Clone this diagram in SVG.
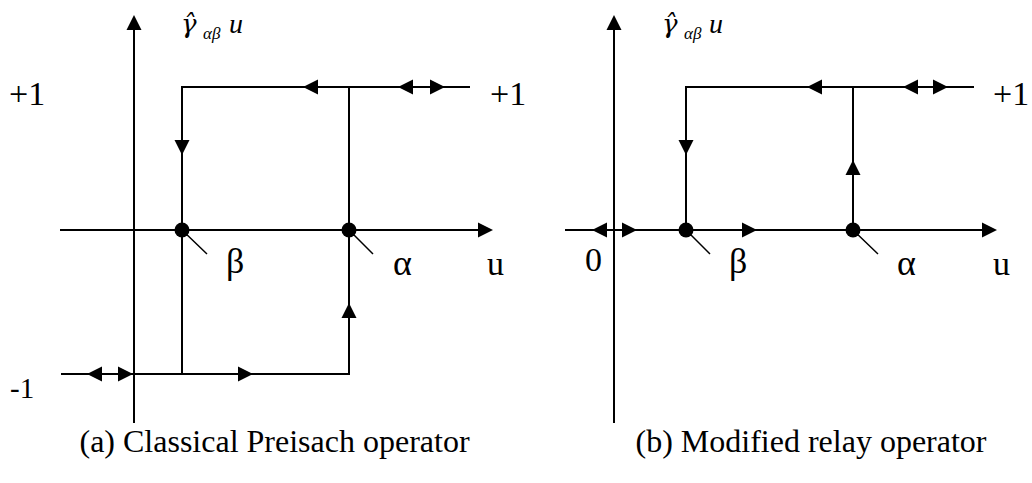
<svg xmlns="http://www.w3.org/2000/svg" xmlns:xlink="http://www.w3.org/1999/xlink" width="1032" height="483" viewBox="0 0 1032 483">
<style>
.ln{stroke:#000;stroke-width:2;fill:none}
.ld{stroke:#000;stroke-width:1.5;fill:none}
text{font-family:'Liberation Serif','DejaVu Serif',serif;fill:#000}
.lb{font-size:34px}
.gk{font-size:36px}
.cap{font-size:32px}
.it{font-style:italic}
.gh{font-family:'DejaVu Serif',serif;font-size:26px}
</style>
<defs>
<path id="ar" d="M0,0 L-15,-7.5 L-15,7.5 Z" fill="#000"/>
<circle id="dot" r="7.5" fill="#000"/>
</defs>
<g id="panel-a">
<g id="a-connectors">
<path class="ln" d="M134,423 V28 M60,230 H480"/>
<path class="ln" d="M470,87 H182 V374 M61,374 H349 V87"/>
<path class="ld" d="M182,230 L207,254 M349,230 L373,254"/>
<use xlink:href="#ar" transform="translate(134,15) rotate(-90)"/>
<use xlink:href="#ar" transform="translate(493,230)"/>
<use xlink:href="#ar" transform="translate(182,155) rotate(90)"/>
<use xlink:href="#ar" transform="translate(303,87) rotate(180)"/>
<use xlink:href="#ar" transform="translate(398,87) rotate(180)"/>
<use xlink:href="#ar" transform="translate(445,87)"/>
<use xlink:href="#ar" transform="translate(349,303) rotate(-90)"/>
<use xlink:href="#ar" transform="translate(253,374)"/>
<use xlink:href="#ar" transform="translate(87,374) rotate(180)"/>
<use xlink:href="#ar" transform="translate(133,374)"/>
</g>
<g id="a-beta-node"><use xlink:href="#dot" x="182" y="230"/></g>
<g id="a-alpha-node"><use xlink:href="#dot" x="349" y="230"/></g>
<g id="a-labels">
<text class="lb" x="9" y="105">+1</text>
<text class="lb" x="490" y="105">+1</text>
<text x="10" y="398" font-size="29">-1</text>
<text class="gk" x="226" y="273">β</text>
<text class="gk" x="393" y="275">α</text>
<text class="lb" x="487" y="275">u</text>
<text class="it"><tspan class="gh" x="181" y="33">γ̂</tspan><tspan x="203" y="39" font-size="17">αβ</tspan><tspan x="229" y="33" font-size="28">u</tspan></text>
<text class="cap" x="274.5" y="452" text-anchor="middle">(a) Classical Preisach operator</text>
</g>
</g>
<g id="panel-b">
<g id="b-connectors">
<path class="ln" d="M614,423 V28 M565,230 H984"/>
<path class="ln" d="M974,87 H686 V230 M853,87 V230"/>
<path class="ld" d="M686,230 L710,254 M853,230 L878,254"/>
<use xlink:href="#ar" transform="translate(614,15) rotate(-90)"/>
<use xlink:href="#ar" transform="translate(997,230)"/>
<use xlink:href="#ar" transform="translate(686,155) rotate(90)"/>
<use xlink:href="#ar" transform="translate(807,87) rotate(180)"/>
<use xlink:href="#ar" transform="translate(903,87) rotate(180)"/>
<use xlink:href="#ar" transform="translate(948,87)"/>
<use xlink:href="#ar" transform="translate(853,160) rotate(-90)"/>
<use xlink:href="#ar" transform="translate(757,230)"/>
<use xlink:href="#ar" transform="translate(592,230) rotate(180)"/>
<use xlink:href="#ar" transform="translate(637,230)"/>
</g>
<g id="b-beta-node"><use xlink:href="#dot" x="686" y="230"/></g>
<g id="b-alpha-node"><use xlink:href="#dot" x="853" y="230"/></g>
<g id="b-labels">
<text class="lb" x="993" y="105">+1</text>
<text class="lb" x="585" y="271">0</text>
<text class="gk" x="729" y="273">β</text>
<text class="gk" x="897" y="275">α</text>
<text class="lb" x="993" y="275">u</text>
<text class="it"><tspan class="gh" x="662" y="33">γ̂</tspan><tspan x="684" y="39" font-size="17">αβ</tspan><tspan x="709" y="33" font-size="28">u</tspan></text>
<text class="cap" x="811" y="452" text-anchor="middle">(b) Modified relay operator</text>
</g>
</g>
</svg>
